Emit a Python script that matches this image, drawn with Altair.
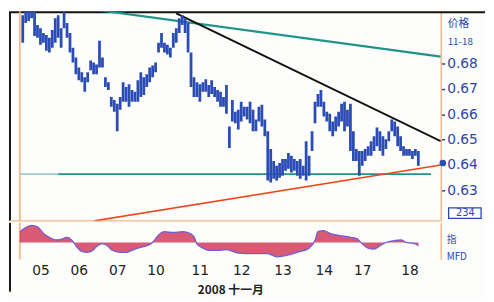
import altair as alt
import pandas as pd

# ---------------- data ----------------
# intraday price bars (high / low), 2008-11-05 .. 2008-11-18
bar_high = [0.6990, 0.7005, 0.7013, 0.7017, 0.7005, 0.6951, 0.6939, 0.6920, 0.6912, 0.6901,
            0.6932, 0.6978, 0.6990, 0.6939, 0.7017, 0.6959, 0.6920, 0.6862, 0.6823, 0.6784,
            0.6765, 0.6746, 0.6765, 0.6812, 0.6804, 0.6796, 0.6889, 0.6823, 0.6746, 0.6726,
            0.6668, 0.6656, 0.6641, 0.6668, 0.6726, 0.6707, 0.6718, 0.6695, 0.6688, 0.6734,
            0.6765, 0.6746, 0.6757, 0.6784, 0.6792, 0.6804, 0.6881, 0.6920, 0.6881, 0.6874,
            0.6862, 0.6920, 0.6939, 0.6978, 0.6990, 0.6978, 0.6959, 0.6843, 0.6746, 0.6726,
            0.6718, 0.6726, 0.6738, 0.6715, 0.6734, 0.6707, 0.6695, 0.6688, 0.6668, 0.6715,
            0.6552, 0.6656, 0.6610, 0.6618, 0.6649, 0.6629, 0.6629, 0.6649, 0.6618, 0.6579,
            0.6629, 0.6637, 0.6579, 0.6533, 0.6463, 0.6416, 0.6397, 0.6408, 0.6424, 0.6424,
            0.6447, 0.6436, 0.6424, 0.6416, 0.6424, 0.6397, 0.6494, 0.6436, 0.6533, 0.6649,
            0.6680, 0.6695, 0.6649, 0.6610, 0.6602, 0.6571, 0.6591, 0.6610, 0.6641, 0.6649,
            0.6618, 0.6641, 0.6533, 0.6463, 0.6455, 0.6455, 0.6463, 0.6474, 0.6494, 0.6513,
            0.6548, 0.6533, 0.6513, 0.6501, 0.6533, 0.6579, 0.6571, 0.6552, 0.6513, 0.6474,
            0.6463, 0.6463, 0.6455, 0.6463, 0.6455]
bar_low = [0.6881, 0.6959, 0.6967, 0.6978, 0.6908, 0.6901, 0.6874, 0.6881, 0.6850, 0.6843,
           0.6862, 0.6881, 0.6901, 0.6862, 0.6939, 0.6901, 0.6843, 0.6804, 0.6757, 0.6734,
           0.6726, 0.6688, 0.6726, 0.6773, 0.6757, 0.6757, 0.6784, 0.6784, 0.6707, 0.6695,
           0.6629, 0.6610, 0.6533, 0.6618, 0.6649, 0.6649, 0.6629, 0.6649, 0.6649, 0.6649,
           0.6668, 0.6676, 0.6707, 0.6726, 0.6746, 0.6765, 0.6843, 0.6862, 0.6843, 0.6835,
           0.6823, 0.6862, 0.6881, 0.6920, 0.6951, 0.6920, 0.6843, 0.6707, 0.6668, 0.6668,
           0.6649, 0.6688, 0.6688, 0.6668, 0.6680, 0.6668, 0.6649, 0.6629, 0.6629, 0.6602,
           0.6467, 0.6571, 0.6564, 0.6540, 0.6571, 0.6591, 0.6579, 0.6564, 0.6533, 0.6533,
           0.6571, 0.6552, 0.6513, 0.6339, 0.6331, 0.6346, 0.6339, 0.6350, 0.6358, 0.6377,
           0.6385, 0.6370, 0.6377, 0.6358, 0.6346, 0.6358, 0.6339, 0.6358, 0.6455, 0.6564,
           0.6629, 0.6629, 0.6591, 0.6571, 0.6533, 0.6513, 0.6533, 0.6552, 0.6571, 0.6533,
           0.6552, 0.6455, 0.6416, 0.6416, 0.6358, 0.6397, 0.6416, 0.6436, 0.6436, 0.6455,
           0.6474, 0.6455, 0.6436, 0.6463, 0.6494, 0.6533, 0.6513, 0.6474, 0.6455, 0.6436,
           0.6436, 0.6436, 0.6424, 0.6436, 0.6397]

# oscillator (lower panel), by bar index
osc_idx = [-1, 3, 5, 7, 9, 11, 13, 15, 17, 18, 20, 22, 24, 25, 27, 29, 30, 33, 35, 37,
           39, 42, 44, 46, 48, 51, 54, 56, 58, 59, 61, 63, 66, 69, 73, 78, 83, 86, 89, 93,
           97, 99, 100, 102, 104, 108, 111, 113, 115, 117, 119, 121, 123, 126, 128, 130, 133, 134]
osc_val = [11, 17.5, 16, 9.3, 5.3, 2.7, 3.3, 5.3, 1, -3.3, -9, -10, -7.3, -4, -1.3, -4, -7.3, -10, -10, -8,
           -5.7, -3.3, 0, 7.7, 11, 10.3, 11, 10, 6, -1.3, -5.7, -8, -8, -7.3, -10.7, -11.3, -11.3, -14.7, -13.3, -10,
           -5.7, 2, 11, 12, 9.3, 6.7, 5.3, 4.3, -1.3, -5.7, -6.7, -3.3, 0, 2, 2.7, 0, -1.3, -3.3]

# day ticks (bar index where each trading day label sits)
day_idx = [6, 19, 32, 45, 60, 74, 88, 102, 115, 131]
day_lbl = ["05", "06", "07", "10", "11", "12", "13", "14", "17", "18"]

price_ticks = [0.63, 0.64, 0.65, 0.66, 0.67, 0.68]

# trend lines: start / end (bar index, price)
trend_name = ["upper", "resist", "flat_a", "flat_b", "rise"]
trend_i0 = [21, 52, -1, 12, 24.3]
trend_p0 = [0.7017, 0.6997, 0.6364, 0.6364, 0.6180]
trend_i1 = [141.6, 141.6, 12, 138.3, 141.6]
trend_p1 = [0.6827, 0.6494, 0.6364, 0.6364, 0.6400]

# side annotations on the price axis
note_text = ["价格", "11-18"]
note_price = [0.6955, 0.6883]
box_text = "234"
box_mid = 0.6210
box_top, box_bottom = 0.6231, 0.6190

last_price = 0.6408
last_idx = 142.3

# side annotations on the oscillator axis
osc_note_text = ["指", "MFD"]
osc_note_val = [3, -15]

# ---------------- styling ----------------
W, H_TOP, H_BOT = 428, 213, 37
BLUE = "#2a4cb4"
AXBLUE = "#2a48a8"
ORANGE = "#f0b888"
TEAL = "#1f9488"

xscale = alt.Scale(domain=[-1, 141.6], nice=False, zero=False)
yscale = alt.Scale(domain=[0.618, 0.7005], nice=False, zero=False)
oscale = alt.Scale(domain=[-17, 20], nice=False, zero=False)

AX_P = alt.Axis(orient="right", values=price_ticks, format=".2f", title=None,
                grid=False, labelColor=AXBLUE, tickColor=AXBLUE, tickSize=4,
                tickWidth=1.5, domainColor=ORANGE, domainWidth=1.5,
                labelFont="DejaVu Sans", labelFontSize=14, labelPadding=2)
AX_O = alt.Axis(orient="right", labels=False, ticks=False, grid=False, title=None,
                domainColor=ORANGE, domainWidth=1.5)

one = pd.DataFrame({"k": [0]})
bars = pd.DataFrame({"i": list(range(len(bar_high))), "high": bar_high, "low": bar_low})
trends = pd.DataFrame({"name": trend_name, "i0": trend_i0, "p0": trend_p0,
                       "i1": trend_i1, "p1": trend_p1})
osc = pd.DataFrame({"i": osc_idx, "v": osc_val})
notes = pd.DataFrame({"t": note_text, "p": note_price})
boxdf = pd.DataFrame({"t": [box_text], "pm": [box_mid], "p0": [box_top], "p1": [box_bottom]})
lastdf = pd.DataFrame({"i": [last_idx], "p": [last_price]})
onotes = pd.DataFrame({"t": osc_note_text, "v": osc_note_val})

bar_layer = alt.Chart(bars).mark_rule(strokeWidth=2.8, color=BLUE, clip=True).encode(
    x=alt.X("i:Q", scale=xscale, axis=None),
    y=alt.Y("high:Q", scale=yscale, axis=AX_P),
    y2="low:Q",
)

trend_layer = alt.Chart(trends).mark_rule(clip=True).encode(
    x=alt.X("i0:Q", scale=xscale, axis=None),
    x2="i1:Q",
    y=alt.Y("p0:Q", scale=yscale, axis=AX_P),
    y2="p1:Q",
    color=alt.Color("name:N", legend=None,
                    scale=alt.Scale(domain=trend_name,
                                    range=[TEAL, "#111111", "#9fcbc6", TEAL, "#f0461a"])),
    strokeWidth=alt.StrokeWidth("name:N", legend=None,
                                scale=alt.Scale(domain=trend_name, range=[2.2, 1.6, 1.5, 2.6, 2.0])),
)

left_line = alt.Chart(one).mark_rule(color=ORANGE, strokeWidth=1.8).encode(
    x=alt.value(0), y=alt.value(0), y2=alt.value(H_TOP))
mid_line = alt.Chart(one).mark_rule(color=ORANGE, strokeWidth=1.5).encode(
    x=alt.value(-10), x2=alt.value(W), y=alt.value(H_TOP))
frame_left = alt.Chart(one).mark_rule(color="#151515", strokeWidth=2).encode(
    x=alt.value(-10), y=alt.value(1), y2=alt.value(H_TOP))
frame_top = alt.Chart(one).mark_rule(color="#151515", strokeWidth=2).encode(
    x=alt.value(-11), x2=alt.value(473), y=alt.value(1))

box = alt.Chart(boxdf).mark_rect(fill="white", stroke=AXBLUE, strokeWidth=1.3).encode(
    x=alt.value(W + 8), x2=alt.value(W + 41),
    y=alt.Y("p0:Q", scale=yscale, axis=AX_P), y2="p1:Q")
box_txt = alt.Chart(boxdf).mark_text(align="center", baseline="middle", color=AXBLUE,
                                     fontSize=10, font="DejaVu Sans").encode(
    x=alt.value(W + 25),
    y=alt.Y("pm:Q", scale=yscale, axis=AX_P),
    text="t:N")
txt_notes = alt.Chart(notes).mark_text(align="left", baseline="middle", color=AXBLUE,
                                       font="Noto Sans CJK SC").encode(
    x=alt.value(W + 7),
    y=alt.Y("p:Q", scale=yscale, axis=AX_P),
    text="t:N",
    size=alt.Size("t:N", legend=None,
                  scale=alt.Scale(domain=note_text, range=[11, 10])),
)
dot = alt.Chart(lastdf).mark_circle(size=45, color=BLUE, opacity=1).encode(
    x=alt.X("i:Q", scale=xscale, axis=None),
    y=alt.Y("p:Q", scale=yscale, axis=AX_P))

top = alt.layer(frame_top, frame_left, left_line, mid_line, trend_layer, bar_layer,
                box, box_txt, txt_notes, dot).properties(width=W, height=H_TOP)

label_expr = " : ".join(f"datum.value == {i} ? '{l}'" for i, l in zip(day_idx, day_lbl)) + " : ''"
AX_X = alt.Axis(values=day_idx, labelExpr=label_expr, ticks=False, domain=False,
                grid=False, labelFlush=False, labelColor="#222222",
                labelFont="DejaVu Sans", labelFontSize=14, labelPadding=5,
                title="2008 十一月", titleFont="Noto Sans CJK SC", titleFontSize=12,
                titleFontWeight="bold", titleColor="#222222", titlePadding=7)

area = alt.Chart(osc).mark_area(
    color="#c8143c", interpolate="monotone",
    line={"color": "#6f5fd6", "strokeWidth": 1.3}).encode(
    x=alt.X("i:Q", scale=xscale, axis=AX_X),
    y=alt.Y("v:Q", scale=oscale, axis=AX_O),
    y2=alt.datum(0),
)
left_line2 = alt.Chart(one).mark_rule(color=ORANGE, strokeWidth=1.8).encode(
    x=alt.value(0), y=alt.value(0), y2=alt.value(H_BOT))
frame_left2 = alt.Chart(one).mark_rule(color="#151515", strokeWidth=2).encode(
    x=alt.value(-10), y=alt.value(0), y2=alt.value(70))
txt_onotes = alt.Chart(onotes).mark_text(align="left", baseline="middle", color=AXBLUE,
                                         fontSize=10, font="Noto Sans CJK SC").encode(
    x=alt.value(W + 6),
    y=alt.Y("v:Q", scale=oscale, axis=AX_O),
    text="t:N")

bottom = alt.layer(left_line2, frame_left2, area, txt_onotes).properties(
    width=W, height=H_BOT)

chart = alt.vconcat(top, bottom, spacing=0).properties(
    padding={"left": 0, "top": 0, "right": 0, "bottom": 0},
    background="#fdfdfb",
).configure_view(stroke=None)

chart.save("out.html", embed_options={"renderer": "svg", "actions": False})
